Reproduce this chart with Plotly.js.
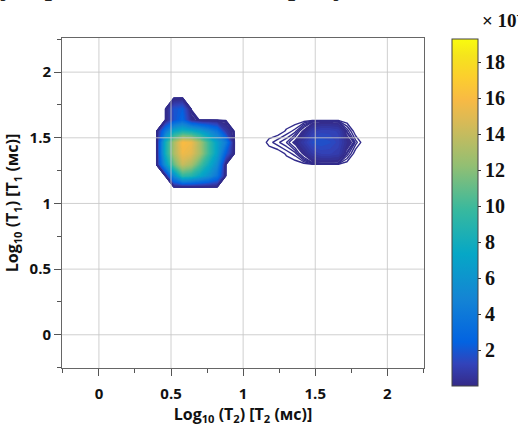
<!DOCTYPE html>
<html><head><meta charset="utf-8">
<script src="https://cdn.plot.ly/plotly-3.0.1.min.js"></script>
<style>html,body{margin:0;padding:0;background:#fff}#chart{width:518px;height:426px}</style>
</head><body><div id="chart"></div>
<script>
// log10(T2) grid (columns) and log10(T1) grid (rows)
const log10T2 = [0.34,0.40,0.46,0.52,0.58,0.64,0.70,0.76,0.82,0.88,0.94,1.00,1.06,1.12,1.18,1.24,1.30,1.36,1.42,1.48,1.54,1.60,1.66,1.72,1.78,1.84,1.90];
const log10T1 = [1.04,1.125,1.21,1.295,1.38,1.465,1.55,1.635,1.72,1.805,1.89];
// amplitude (x 10^-3), one row per log10T1 value
const row104  = [0,0,0,0,0,0,0,0,0,0,0,0,0,0,0,0,0,0,0,0,0,0,0,0,0,0,0];
const row1125 = [0,0,0,0,0,0,0,0,0,0,0,0,0,0,0,0,0,0,0,0,0,0,0,0,0,0,0];
const row121  = [0,0,0,5.5,9.5,9,7.5,6,4,0,0,0,0,0,0,0,0,0,0,0,0,0,0,0,0,0,0];
const row1295 = [0,0,6,11,14,13,10.5,8,5.5,0,0,0,0,0,0,0,0,0,0,0,0,0,0,0,0,0,0];
const row138  = [0,0,8,13,15.5,15,13,10,7,2.5,0,0,0,0,0,0,0.05,0.1,0.3,1.0,1.3,1.3,1.1,0.15,0,0,0];
const row1465 = [0,0,8,13,16,15.5,13,10,7,4.5,0,0,0,0,0.06,0.11,0.16,0.3,1.0,1.8,2.0,1.8,1.4,0.5,0.1,0,0];
const row155  = [0,0,4,7.5,8.5,8,7,5.5,4,1,0,0,0,0,0,0,0.05,0.1,0.3,1.1,1.4,1.4,1.2,0.15,0,0,0];
const row1635 = [0,0,0,2,3,0.6,0,0,0,0,0,0,0,0,0,0,0,0,0,0,0,0,0,0,0,0,0];
const row172  = [0,0,0,2,2.5,0,0,0,0,0,0,0,0,0,0,0,0,0,0,0,0,0,0,0,0,0,0];
const row1805 = [0,0,0,0,0,0,0,0,0,0,0,0,0,0,0,0,0,0,0,0,0,0,0,0,0,0,0];
const row189  = [0,0,0,0,0,0,0,0,0,0,0,0,0,0,0,0,0,0,0,0,0,0,0,0,0,0,0];
const amplitude = [row104,row1125,row121,row1295,row138,row1465,row155,row1635,row172,row1805,row189];

const xTickVals = [0,0.5,1,1.5,2];
const xTickText = ['0','0.5','1','1.5','2'];
const yTickVals = [0,0.5,1,1.5,2];
const yTickText = ['0','0.5','1','1.5','2'];
const cbTickVals = [2,4,6,8,10,12,14,16,18];
const cbTickText = ['2','4','6','8','10','12','14','16','18'];
const cbRange = [0,19.3];

// parula colormap (style)
const parula = [
 [0/63,'rgb(53,42,135)'],[4/63,'rgb(50,67,186)'],[8/63,'rgb(3,99,225)'],[16/63,'rgb(20,133,212)'],
 [24/63,'rgb(6,167,198)'],[32/63,'rgb(56,185,158)'],[40/63,'rgb(146,191,115)'],[48/63,'rgb(217,186,86)'],
 [52/63,'rgb(248,186,68)'],[56/63,'rgb(252,206,46)'],[60/63,'rgb(245,228,29)'],[63/63,'rgb(249,251,14)']
];
const fillScale = [[0,'#ffffff'],[0.005,'#ffffff']].concat(parula.map(s=>[0.006+s[0]*0.994,s[1]]));

const fillTrace = {
  type:'contour', x:log10T2, y:log10T1, z:amplitude,
  autocontour:false, contours:{coloring:'fill', start:0.25, end:19, size:0.25, showlines:false},
  line:{width:0, smoothing:0}, colorscale:fillScale, showscale:false, hoverinfo:'skip'
};
const lowLines = {
  type:'contour', x:log10T2, y:log10T1, z:amplitude,
  autocontour:false, contours:{coloring:'none', start:0.04, end:0.2, size:0.04},
  line:{width:1.4, color:'rgb(50,44,140)', smoothing:0}, showscale:false, hoverinfo:'skip'
};
const scaleTrace = {
  type:'scatter', mode:'markers', x:[null], y:[null], hoverinfo:'skip', showlegend:false,
  marker:{color:[cbRange[0]], cmin:cbRange[0], cmax:cbRange[1], colorscale:parula, showscale:true,
    colorbar:{thickness:26, thicknessmode:'pixels', len:347, lenmode:'pixels',
      x:1.0769, xanchor:'left', xpad:0, y:0.997, yanchor:'top', ypad:0,
      outlinewidth:1, outlinecolor:'#444',
      tickmode:'array', tickvals:cbTickVals, ticktext:cbTickText,
      ticks:'outside', ticklen:3, tickcolor:'#333',
      tickfont:{family:'Liberation Serif', size:20, color:'#111', weight:'bold'}}}
};

const axFont = {family:'Open Sans', size:15, color:'#111', weight:'bold'};
const titleFont = {family:'Open Sans', size:16, color:'#111', weight:'bold'};

const gridShapes = xTickVals.map(v=>({type:'line', xref:'x', yref:'paper', x0:v, x1:v, y0:0, y1:1,
    line:{color:'rgba(200,200,200,0.85)', width:1}, layer:'above'}))
  .concat(yTickVals.map(v=>({type:'line', xref:'paper', yref:'y', x0:0, x1:1, y0:v, y1:v,
    line:{color:'rgba(200,200,200,0.85)', width:1}, layer:'above'})));

const layout = {
  width:518, height:426, margin:{l:62, r:92, t:38, b:58},
  paper_bgcolor:'#fff', plot_bgcolor:'#fff', showlegend:false,
  xaxis:{range:[-0.256,2.254], tickmode:'array', tickvals:xTickVals, ticktext:xTickText,
    ticks:'outside', ticklen:7, tickcolor:'#555', showgrid:false, zeroline:false,
    showline:true, linecolor:'#666', linewidth:1, mirror:true,
    minor:{dtick:0.25, tick0:0, ticks:'outside', ticklen:4, tickcolor:'#555', showgrid:false},
    tickfont:axFont, ticklabelstandoff:5,
    title:{text:'Log<sub>10</sub> (T<sub>2</sub>) [T<sub>2</sub> (мс)]', font:titleFont, standoff:6}},
  yaxis:{range:[-0.253,2.26], tickmode:'array', tickvals:yTickVals, ticktext:yTickText,
    ticks:'outside', ticklen:7, tickcolor:'#555', showgrid:false, zeroline:false,
    showline:true, linecolor:'#666', linewidth:1, mirror:true,
    minor:{dtick:0.25, tick0:0, ticks:'outside', ticklen:4, tickcolor:'#555', showgrid:false},
    tickfont:axFont,
    title:{text:'Log<sub>10</sub> (T<sub>1</sub>) [T<sub>1</sub> (мс)]', font:titleFont, standoff:6}},
  shapes:gridShapes,
  annotations:[
    {xref:'paper', yref:'paper', x:1.1538, y:1.0576, xanchor:'left', yanchor:'middle', showarrow:false,
     text:'× 10<sup>-3</sup>', font:{family:'Liberation Serif', size:19, color:'#111', weight:'bold'}},
    {xref:'paper', yref:'paper', x:-0.1758, y:1.107, xanchor:'left', yanchor:'bottom', showarrow:false,
     text:'у, представленные на рисунке', font:{family:'Liberation Serif', size:31, color:'#222'}}
  ]
};
Plotly.newPlot('chart', [fillTrace, lowLines, scaleTrace], layout, {staticPlot:true, displayModeBar:false});
</script></body></html>
